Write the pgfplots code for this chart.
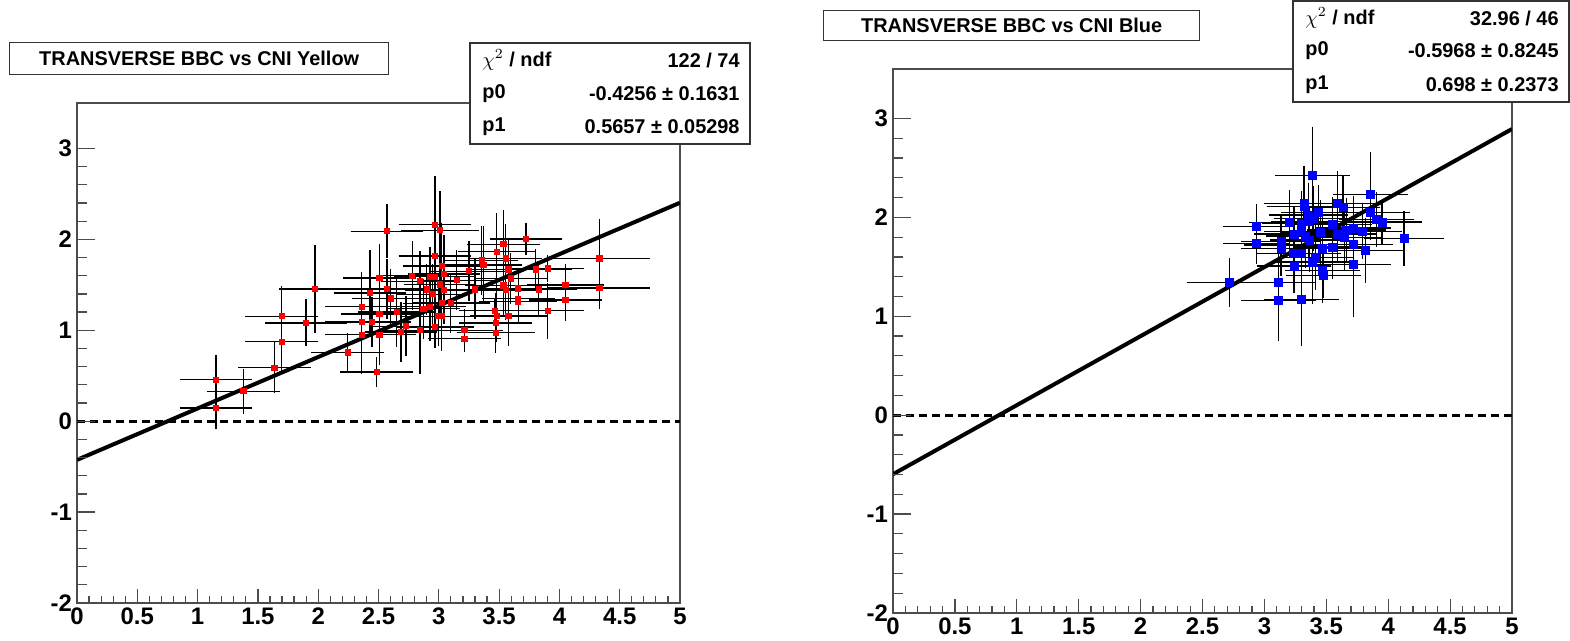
\documentclass[border=0pt]{standalone}
\usepackage{pgfplots}
\pgfplotsset{compat=1.18}
\usepackage{fontspec}
\setmainfont{Liberation Sans}

% two ROOT canvases: fit of BBC vs CNI asymmetry
\pgfplotsset{
  rootframe/.style={
    scale only axis, anchor=south west,
    xmin=0, xmax=5, ymin=-2, ymax=3.5,
    xtick={0,0.5,...,5}, minor x tick num=4,
    ytick=\empty,
    tick pos=left, tick align=inside,
    major tick length=7bp, minor tick length=3.5bp,
    axis line style={line width=0.7bp, black!70},
    every tick/.style={line width=0.6bp, black!70},
    ticklabel style={font=\fontsize{12}{12}\selectfont\bfseries},
    /pgf/number format/assume math mode=true,
    xticklabel style={yshift=1bp},
  },
  % y ticks are longer than x ticks in ROOT: drawn by an overlay axis
  yframe/.style={
    scale only axis, anchor=south west,
    xmin=0, xmax=5, ymin=-2, ymax=3.5,
    xtick=\empty, ytick={-2,-1,0,1,2,3}, minor y tick num=4,
    tick pos=left, tick align=inside,
    major tick length=9bp, minor tick length=5bp,
    axis line style={draw=none},
    every tick/.style={line width=0.6bp, black!70},
    ticklabel style={font=\fontsize{12}{12}\selectfont\bfseries},
    /pgf/number format/assume math mode=true,
    yticklabel style={xshift=1bp},
  },
  pts/.style={only marks, mark=square*,
    error bars/.cd, x dir=both, x explicit, y dir=both, y explicit,
    error bar style={line width=0.6bp, black},
    error mark options={line width=0.6bp, black, mark size=1.3bp}},
  fit/.style={black, line width=2bp, no marks},
  zero/.style={black, line width=1.4bp, dash pattern=on 4bp off 2.5bp, no marks},
}

\begin{document}
\begin{tikzpicture}
\path[use as bounding box] (0,0) rectangle (785bp,320.5bp);

% ---------- left: Yellow ----------
\begin{axis}[rootframe, at={(38.5bp,19bp)}, width=301.5bp, height=250bp]
\addplot[zero] coordinates {(0,0) (5,0)};
\addplot[mark options={red, draw=red, mark size=1.3bp}, pts] coordinates {
(1.153,0.457) +- (0.28,0.24)
(1.153,0.146) +- (0.28,0.20)
(1.379,0.330) +- (0.28,0.22)
(1.636,0.588) +- (0.28,0.25)
(1.697,0.876) +- (0.28,0.30)
(1.697,1.155) +- (0.28,0.30)
(1.899,1.081) +- (0.32,0.23)
(1.973,1.454) +- (0.28,0.45)
(2.244,0.756) +- (0.28,0.18)
(2.360,1.260) +- (0.28,0.35)
(2.360,1.090) +- (0.28,0.30)
(2.360,0.950) +- (0.28,0.40)
(2.430,1.410) +- (0.28,0.44)
(2.446,1.090) +- (0.30,0.25)
(2.485,0.540) +- (0.28,0.14)
(2.507,1.574) +- (0.28,0.35)
(2.507,1.180) +- (0.30,0.30)
(2.507,0.950) +- (0.28,0.30)
(2.570,2.090) +- (0.28,0.27)
(2.570,1.454) +- (0.30,0.30)
(2.600,1.350) +- (0.30,0.30)
(2.650,1.200) +- (0.30,0.35)
(2.687,0.980) +- (0.28,0.30)
(2.728,1.045) +- (0.28,0.30)
(2.780,1.600) +- (0.28,0.35)
(2.844,1.540) +- (0.30,0.30)
(2.844,1.000) +- (0.28,0.45)
(2.872,1.238) +- (0.28,0.30)
(2.900,1.450) +- (0.30,0.25)
(2.927,1.589) +- (0.28,0.30)
(2.927,1.260) +- (0.28,0.35)
(2.949,1.396) +- (0.28,0.30)
(2.968,2.163) +- (0.28,0.50)
(2.968,1.816) +- (0.28,0.35)
(2.968,1.589) +- (0.30,0.35)
(2.968,1.037) +- (0.30,0.20)
(2.996,1.155) +- (0.30,0.30)
(3.010,2.100) +- (0.30,0.40)
(3.010,1.505) +- (0.28,0.30)
(3.024,1.706) +- (0.30,0.45)
(3.024,1.297) +- (0.30,0.30)
(3.024,1.155) +- (0.28,0.35)
(3.043,1.620) +- (0.28,0.40)
(3.043,1.443) +- (0.30,0.35)
(3.100,1.300) +- (0.30,0.30)
(3.150,1.550) +- (0.28,0.30)
(3.212,1.000) +- (0.30,0.20)
(3.212,0.906) +- (0.28,0.12)
(3.250,1.650) +- (0.30,0.30)
(3.300,1.450) +- (0.28,0.30)
(3.355,1.768) +- (0.28,0.35)
(3.369,1.717) +- (0.30,0.40)
(3.466,1.216) +- (0.28,0.10)
(3.472,1.081) +- (0.28,0.30)
(3.472,0.975) +- (0.30,0.18)
(3.480,1.155) +- (0.30,0.25)
(3.480,1.863) +- (0.30,0.40)
(3.535,1.947) +- (0.28,0.35)
(3.535,1.494) +- (0.30,0.30)
(3.555,1.790) +- (0.28,0.35)
(3.555,1.440) +- (0.28,0.30)
(3.577,1.670) +- (0.30,0.30)
(3.577,1.158) +- (0.30,0.30)
(3.596,1.571) +- (0.28,0.25)
(3.659,1.461) +- (0.30,0.20)
(3.659,1.348) +- (0.28,0.15)
(3.659,1.315) +- (0.30,0.20)
(3.723,2.005) +- (0.28,0.15)
(3.803,1.670) +- (0.28,0.20)
(3.828,1.450) +- (0.30,0.25)
(3.902,1.680) +- (0.28,0.12)
(3.902,1.216) +- (0.28,0.28)
(4.049,1.498) +- (0.30,0.20)
(4.049,1.333) +- (0.28,0.20)
(4.331,1.790) +- (0.40,0.40)
(4.331,1.465) +- (0.40,0.20)
};
\addplot[fit] coordinates {(0,-0.4256) (5,2.4029)};
\end{axis}
\begin{axis}[yframe, at={(38.5bp,19bp)}, width=301.5bp, height=250bp]
\addplot[draw=none] coordinates {(0,0)};
\end{axis}

% ---------- right: Blue ----------
\begin{axis}[rootframe, at={(446.5bp,14bp)}, width=309.5bp, height=272bp]
\addplot[zero] coordinates {(0,0) (5,0)};
\addplot[mark options={blue, draw=blue, mark size=2bp}, pts] coordinates {
(2.717,1.339) +- (0.32,0.22)
(2.937,1.906) +- (0.25,0.20)
(2.937,1.738) +- (0.25,0.18)
(3.113,1.339) +- (0.28,0.30)
(3.113,1.157) +- (0.28,0.38)
(3.134,1.754) +- (0.30,0.25)
(3.134,1.720) +- (0.28,0.20)
(3.134,1.686) +- (0.30,0.25)
(3.200,1.950) +- (0.30,0.30)
(3.234,1.636) +- (0.28,0.30)
(3.239,1.832) +- (0.30,0.25)
(3.239,1.508) +- (0.28,0.25)
(3.301,1.940) +- (0.30,0.30)
(3.301,1.855) +- (0.28,0.35)
(3.301,1.636) +- (0.30,0.30)
(3.301,1.171) +- (0.28,0.45)
(3.320,2.143) +- (0.30,0.35)
(3.320,2.108) +- (0.28,0.30)
(3.332,1.812) +- (0.30,0.30)
(3.355,2.024) +- (0.30,0.30)
(3.355,1.957) +- (0.28,0.35)
(3.363,1.771) +- (0.30,0.30)
(3.387,2.422) +- (0.28,0.47)
(3.387,1.549) +- (0.30,0.40)
(3.395,1.990) +- (0.30,0.30)
(3.414,1.592) +- (0.28,0.30)
(3.435,2.048) +- (0.28,0.25)
(3.450,1.850) +- (0.30,0.30)
(3.468,1.687) +- (0.30,0.30)
(3.468,1.461) +- (0.28,0.30)
(3.479,1.414) +- (0.28,0.20)
(3.550,1.700) +- (0.28,0.30)
(3.552,1.926) +- (0.30,0.25)
(3.592,2.143) +- (0.30,0.30)
(3.592,1.832) +- (0.30,0.25)
(3.635,2.098) +- (0.28,0.30)
(3.649,1.798) +- (0.28,0.30)
(3.665,1.872) +- (0.30,0.30)
(3.718,1.893) +- (0.28,0.30)
(3.718,1.728) +- (0.30,0.25)
(3.718,1.521) +- (0.28,0.50)
(3.794,1.859) +- (0.30,0.25)
(3.815,1.663) +- (0.28,0.30)
(3.856,2.230) +- (0.28,0.40)
(3.856,2.048) +- (0.30,0.25)
(3.907,1.980) +- (0.28,0.25)
(3.950,1.953) +- (0.30,0.20)
(4.128,1.785) +- (0.30,0.25)
};
\addplot[fit] coordinates {(0,-0.5968) (5,2.8932)};
\end{axis}
\begin{axis}[yframe, at={(446.5bp,14bp)}, width=309.5bp, height=272bp]
\addplot[draw=none] coordinates {(0,0)};
\end{axis}

% ---------- title boxes and fit boxes ----------
\tikzset{box/.style={draw=black!80, fill=white, line width=0.7bp},
         btxt/.style={font=\fontsize{10}{10}\selectfont\bfseries, inner sep=0}}
\node[box, anchor=north west, minimum width=189.5bp, minimum height=16bp, btxt]
  at (4.5bp,299.5bp) {TRANSVERSE BBC vs CNI Yellow};
\node[box, anchor=north west, minimum width=188bp, minimum height=15bp, btxt]
  at (411.5bp,315.5bp) {TRANSVERSE BBC vs CNI Blue};

% left fit box
\draw[box] (235bp,299bp) rectangle (375bp,248.5bp);
\node[btxt, anchor=west] at (241bp,290.5bp) {$\chi^{2}$ / ndf};
\node[btxt, anchor=east] at (370bp,290.5bp) {122 / 74};
\node[btxt, anchor=west] at (241bp,273.8bp) {p0};
\node[btxt, anchor=east] at (370bp,273.8bp) {-0.4256 ± 0.1631};
\node[btxt, anchor=west] at (241bp,257bp) {p1};
\node[btxt, anchor=east] at (370bp,257bp) {0.5657 ± 0.05298};

% right fit box
\draw[box] (646.5bp,320bp) rectangle (784.5bp,269.5bp);
\node[btxt, anchor=west] at (652.5bp,311.5bp) {$\chi^{2}$ / ndf};
\node[btxt, anchor=east] at (779.5bp,311.5bp) {32.96 / 46};
\node[btxt, anchor=west] at (652.5bp,295bp) {p0};
\node[btxt, anchor=east] at (779.5bp,295bp) {-0.5968 ± 0.8245};
\node[btxt, anchor=west] at (652.5bp,278bp) {p1};
\node[btxt, anchor=east] at (779.5bp,278bp) {0.698 ± 0.2373};
\end{tikzpicture}
\end{document}
